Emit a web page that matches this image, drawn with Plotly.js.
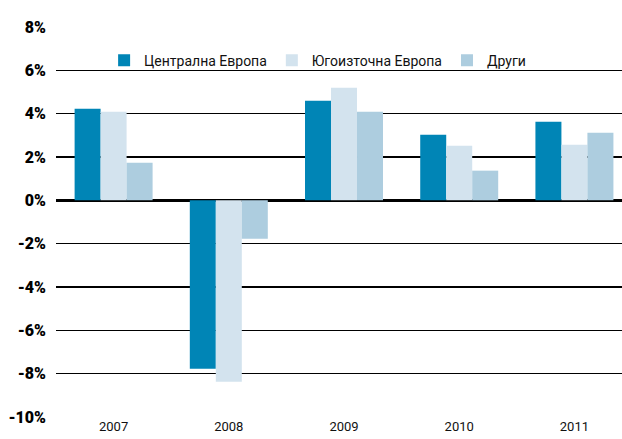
<!DOCTYPE html>
<html>
<head>
<meta charset="utf-8">
<script src="https://cdn.plot.ly/plotly-3.0.1.min.js"></script>
<style>
html,body{margin:0;padding:0;background:#fff;}
#chart{width:622px;height:439px;}
</style>
</head>
<body>
<div id="chart"></div>
<script>
var years = ['2007', '2008', '2009', '2010', '2011'];
var seriesNames = ['Централна Европа', 'Югоизточна Европа', 'Други'];
var central = [4.23, -7.77, 4.6, 3.03, 3.63];
var southEast = [4.09, -8.37, 5.2, 2.52, 2.57];
var others = [1.74, -1.77, 4.09, 1.37, 3.12];
var seriesColors = ['#0085B6', '#D3E3EE', '#ADCDDF'];
var yTickVals = [-10, -8, -6, -4, -2, 0, 2, 4, 6, 8];
var yTickText = ['-10%', '-8%', '-6%', '-4%', '-2%', '0%', '2%', '4%', '6%', '8%'];
var boundaries = [0.5, 1.5, 2.5, 3.5];

var fam = 'Roboto, "DejaVu Sans", sans-serif';
var seriesData = [central, southEast, others];
var traces = seriesData.map(function (vals, i) {
  return {
    type: 'bar',
    x: years,
    y: vals,
    name: seriesNames[i],
    marker: {color: seriesColors[i], line: {width: 0}},
    hoverinfo: 'x+y'
  };
});

var layout = {
  width: 622,
  height: 439,
  margin: {l: 56, r: 0, t: 27, b: 22, pad: 0, autoexpand: false},
  paper_bgcolor: '#ffffff',
  plot_bgcolor: '#ffffff',
  barmode: 'group',
  bargap: 0.323,
  bargroupgap: 0,
  showlegend: true,
  legend: {
    orientation: 'h',
    x: 0.085,
    y: 0.914,
    xanchor: 'left',
    yanchor: 'middle',
    bgcolor: 'rgba(255,255,255,0)',
    font: {family: fam, size: 14, color: '#111'},
    itemwidth: 30,
    traceorder: 'normal'
  },
  xaxis: {
    type: 'category',
    range: [-0.5, 4.413],
    showgrid: false,
    zeroline: false,
    showline: false,
    ticks: '',
    tickfont: {family: fam, size: 13, color: '#111'},
    fixedrange: true
  },
  xaxis2: {
    type: 'category',
    overlaying: 'x',
    matches: 'x',
    anchor: 'free',
    position: 10 / 18,
    side: 'bottom',
    showgrid: false,
    zeroline: false,
    showline: false,
    ticks: 'inside',
    ticklen: 6,
    tickwidth: 1.5,
    tickcolor: '#000',
    tickmode: 'array',
    tickvals: boundaries,
    showticklabels: false
  },
  yaxis: {
    range: [-10, 8],
    tickmode: 'array',
    tickvals: yTickVals,
    ticktext: yTickText,
    showgrid: true,
    gridcolor: '#000',
    gridwidth: 1.5,
    zeroline: true,
    zerolinecolor: '#000',
    zerolinewidth: 2.5,
    showline: false,
    ticks: '',
    ticklabelstandoff: 9,
    tickfont: {family: fam, size: 16, color: '#000', weight: 900},
    fixedrange: true
  },
  font: {family: fam}
};

Plotly.newPlot('chart', traces, layout, {displayModeBar: false, staticPlot: true});
</script>
</body>
</html>
